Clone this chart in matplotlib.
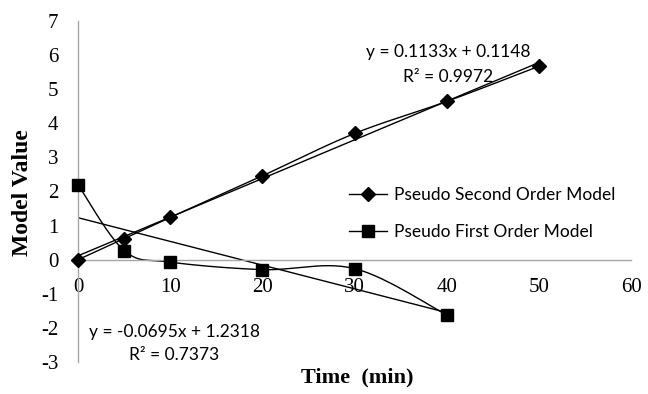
import numpy as np
import matplotlib
matplotlib.use("Agg")
import matplotlib.pyplot as plt

plt.rcParams["axes.unicode_minus"] = False

# ---- data ----
time_second = [0, 5, 10, 20, 30, 40, 50]
second_order = [0.0, 0.62, 1.24, 2.46, 3.70, 4.64, 5.67]
time_first = [0, 5, 10, 20, 30, 40]
first_order = [2.20, 0.27, -0.07, -0.29, -0.26, -1.62]

fit_second = (0.1133, 0.1148)
fit_first = (-0.0695, 1.2318)
eq_second = ["y = 0.1133x + 0.1148", "R² = 0.9972"]
eq_first = ["y = -0.0695x + 1.2318", "R² = 0.7373"]

x_ticks = [0, 10, 20, 30, 40, 50, 60]
y_ticks = [-3, -2, -1, 0, 1, 2, 3, 4, 5, 6, 7]
labels = ["Pseudo Second Order Model", "Pseudo First Order Model"]


def smooth(xs, ys, n=30):
    """Excel-like smoothed line (cardinal Bezier through points)."""
    P = np.column_stack([xs, ys]).astype(float)
    out = [P[0]]
    m = len(P)
    for i in range(m - 1):
        p0 = P[i - 1] if i > 0 else P[i]
        p1 = P[i]
        p2 = P[i + 1]
        p3 = P[i + 2] if i + 2 < m else P[i + 1]
        c1 = p1 + (p2 - p0) / 6.0
        c2 = p2 - (p3 - p1) / 6.0
        t = np.linspace(0, 1, n)[1:, None]
        seg = ((1 - t) ** 3) * p1 + 3 * ((1 - t) ** 2) * t * c1 + 3 * (1 - t) * t ** 2 * c2 + t ** 3 * p2
        out.extend(seg)
    out = np.array(out)
    return out[:, 0], out[:, 1]


fig = plt.figure(figsize=(6.48, 3.94), dpi=100)
ax = fig.add_axes([0.1204, 0.081, 0.8536, 0.866])

lw = 1.0
sx, sy = smooth(time_second, second_order)
ax.plot(sx, sy, color="black", lw=lw)
ax.plot(time_second, second_order, linestyle="none", marker="D", ms=7, color="black", clip_on=False, zorder=5)
fx, fy = smooth(time_first, first_order)
ax.plot(fx, fy, color="black", lw=lw)
ax.plot(time_first, first_order, linestyle="none", marker="s", ms=9, color="black", clip_on=False, zorder=5)

# legend handles
h1, = ax.plot([], [], color="black", lw=lw, marker="D", ms=7)
h2, = ax.plot([], [], color="black", lw=lw, marker="s", ms=9)

# trend lines
tx = np.array([time_second[0], time_second[-1]])
ax.plot(tx, fit_second[0] * tx + fit_second[1], color="black", lw=lw)
tx2 = np.array([time_first[0], time_first[-1]])
ax.plot(tx2, fit_first[0] * tx2 + fit_first[1], color="black", lw=lw)

ax.set_xlim(0, 60)
ax.set_ylim(-3, 7)
ax.set_xticks(x_ticks)
ax.set_yticks(y_ticks)

for s in ["top", "right"]:
    ax.spines[s].set_visible(False)
ax.spines["bottom"].set_position(("data", 0))
ax.spines["left"].set_position(("data", 0))
for s in ["bottom", "left"]:
    ax.spines[s].set_color("#A6A6A6")
    ax.spines[s].set_linewidth(1.0)

ax.tick_params(axis="both", length=0, labelsize=15)
ax.tick_params(axis="y", pad=14)
ax.tick_params(axis="x", pad=13)
for lab in ax.get_xticklabels() + ax.get_yticklabels():
    lab.set_family("Liberation Serif")

fig.text(0.034, 0.512, "Model Value", rotation=90, ha="center", va="center",
         family="Liberation Serif", fontweight="bold", fontsize=17)
fig.text(0.551, 0.043, "Time  (min)", ha="center", va="center",
         family="Liberation Serif", fontweight="bold", fontsize=16)

ax.legend([h1, h2], labels, loc="center left", bbox_to_anchor=(0.462, 0.435),
          frameon=False, prop={"family": "Lato", "size": 12.5},
          handlelength=2.2, labelspacing=1.2, handletextpad=0.4)

fig.text(0.691, 0.868, eq_second[0], ha="center", va="center", family="Lato", fontsize=12.5)
fig.text(0.691, 0.805, eq_second[1], ha="center", va="center", family="Lato", fontsize=12.5)
fig.text(0.269, 0.157, eq_first[0], ha="center", va="center", family="Lato", fontsize=12.5)
fig.text(0.269, 0.099, eq_first[1], ha="center", va="center", family="Lato", fontsize=12.5)

fig.savefig("out.png", dpi=100)
